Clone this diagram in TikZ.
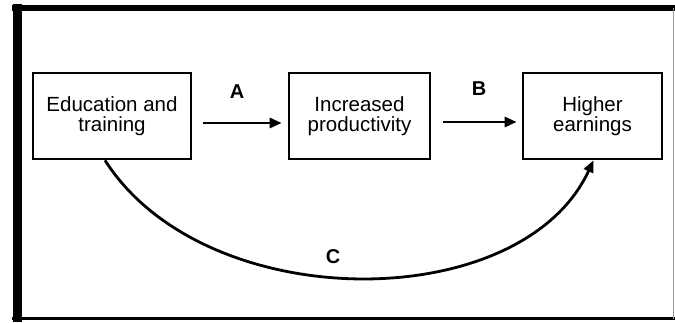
\documentclass[tikz,border=0pt]{standalone}
\usepackage{fontspec}
\setmainfont{Liberation Sans}
\usetikzlibrary{arrows.meta}
\begin{document}
\begin{tikzpicture}[x=1pt,y=1pt,
  stagebox/.style={draw, line width=2.6pt, minimum height=86pt, align=center,
    inner sep=0pt, font=\fontsize{20.5}{20.5}\selectfont},
  conn/.style={line width=2.8pt, -{Triangle[length=12pt,width=10pt]}},
  lab/.style={font=\fontsize{20}{20}\selectfont\bfseries}]
\useasboundingbox (0,0) rectangle (675,323);
% frame
\coordinate (ftl) at (12,315);
\coordinate (ftr) at (675,315);
\coordinate (fbl) at (12,4);
\coordinate (fbr) at (675,4);
\draw[line width=6pt] (ftl) -- (ftr);
\draw[line width=3pt] (fbl) -- (fbr);
\draw[line width=9pt] (17,319) -- (17,1);
\draw[line width=0.8pt, black!40] (673,315) -- (673,4);
% boxes
\node[stagebox, minimum width=158pt] (edu) at (112,207) {Education and\\training};
\node[stagebox, minimum width=141pt] (prod) at (359.5,207) {Increased\\productivity};
\node[stagebox, minimum width=139pt] (earn) at (592.5,207) {Higher\\earnings};
% arrows
\draw[conn, shorten <=11pt, shorten >=6pt] ([yshift=-7pt]edu.east) -- ([yshift=-7pt]prod.west);
\draw[conn, shorten <=12pt, shorten >=5pt] ([yshift=-6pt]prod.east) -- ([yshift=-6pt]earn.west);
\draw[conn] ([xshift=-7pt]edu.south) .. controls +(100,-157) and +(-72,-156) .. ([xshift=1pt]earn.south);
% labels
\node[lab] (la) at (237,231) {A};
\node[lab] (lb) at (479,234) {B};
\node[lab] (lc) at (333,66) {C};
\end{tikzpicture}
\end{document}
